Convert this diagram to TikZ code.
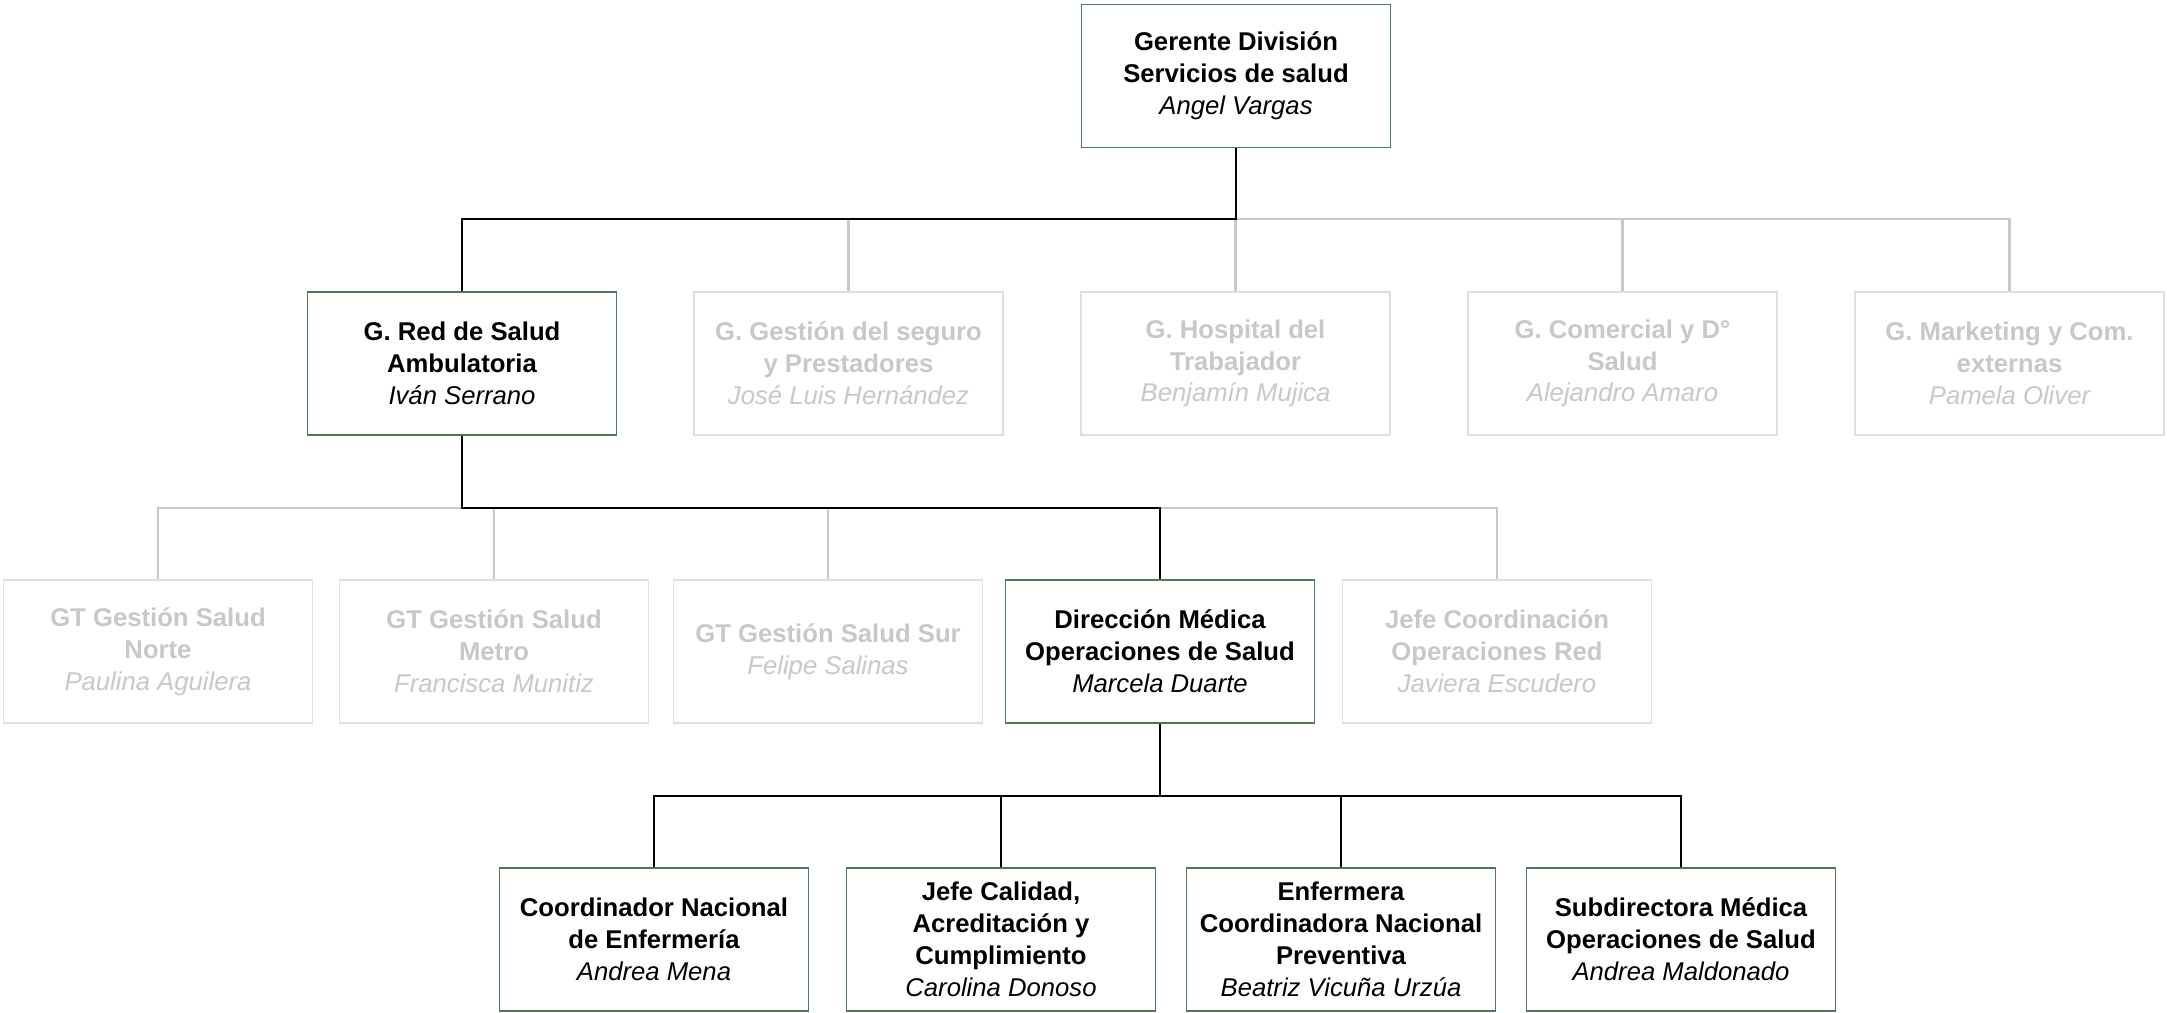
\documentclass[tikz,border=0pt]{standalone}
\usepackage{fontspec}
\setmainfont{Liberation Sans}
\definecolor{boxgreen}{RGB}{74,122,84}
\definecolor{palegreen}{RGB}{216,228,219}
\definecolor{palegrey}{RGB}{200,200,200}
\newcommand{\persona}[1]{\\{\mdseries\itshape #1}}
\tikzset{
  activebox/.style={draw=boxgreen, line width=0.5pt, fill=white, rectangle,
    minimum width=3.09cm, minimum height=1.43cm, inner sep=0pt, align=center,
    font={\fontsize{7.3}{9.05}\selectfont\bfseries}, text=black},
  faintbox/.style={activebox, draw=palegreen, text=palegrey},
  tieline/.style={draw=black, line width=0.6pt},
  faintline/.style={draw=palegrey, line width=0.6pt}
}
\begin{document}
\begin{tikzpicture}[x=0.01cm, y=-0.01cm]
        \useasboundingbox (0,0) rectangle (2167,1012);
        % top
        \node[activebox] (gerente) at (1236,76) {Gerente División\\Servicios de salud\persona{Angel Vargas}};
        % gerencias
        \node[activebox] (red) at (462,363.5) {G. Red de Salud\\Ambulatoria\persona{Iván Serrano}};
        \node[faintbox] (seguro) at (848.5,363.5) {G. Gestión del seguro\\y Prestadores\persona{José Luis Hernández}};
        \node[faintbox] (hospital) at (1235.5,363.5) {G. Hospital del\\Trabajador\persona{Benjamín Mujica}};
        \node[faintbox] (comercial) at (1622.5,363.5) {G. Comercial y D°\\Salud\persona{Alejandro Amaro}};
        \node[faintbox] (marketing) at (2009.5,363.5) {G. Marketing y Com.\\externas\persona{Pamela Oliver}};
        % red ambulatoria
        \node[faintbox] (norte) at (158,651.5) {GT Gestión Salud\\Norte\persona{Paulina Aguilera}};
        \node[faintbox] (metro) at (494,651.5) {GT Gestión Salud\\Metro\persona{Francisca Munitiz}};
        \node[faintbox] (sur) at (828,651.5) {GT Gestión Salud Sur\persona{Felipe Salinas}};
        \node[activebox] (direccion) at (1160,651.5) {Dirección Médica\\Operaciones de Salud\persona{Marcela Duarte}};
        \node[faintbox] (coordred) at (1497,651.5) {Jefe Coordinación\\Operaciones Red\persona{Javiera Escudero}};
        % direccion medica
        \node[activebox] (enfermeria) at (654,939.5) {Coordinador Nacional\\de Enfermería\persona{Andrea Mena}};
        \node[activebox] (calidad) at (1001,939.5) {Jefe Calidad,\\Acreditación y\\Cumplimiento\persona{Carolina Donoso}};
        \node[activebox] (preventiva) at (1341,939.5) {Enfermera\\Coordinadora Nacional\\Preventiva\persona{Beatriz Vicuña Urzúa}};
        \node[activebox] (subdir) at (1681,939.5) {Subdirectora Médica\\Operaciones de Salud\persona{Andrea Maldonado}};
        % junctions
        \coordinate (bus1) at (1236,219);
        \coordinate (bus2) at (462,508);
        \coordinate (bus3) at (1160,796);
        % faint links first
        \draw[faintline] (bus1) -| (seguro.north);
        \draw[faintline] (bus1) -| (hospital.north);
        \draw[faintline] (bus1) -| (comercial.north);
        \draw[faintline] (bus1) -| (marketing.north);
        \draw[faintline] (bus2) -| (norte.north);
        \draw[faintline] (bus2) -| (metro.north);
        \draw[faintline] (bus2) -| (sur.north);
        \draw[faintline] (bus2) -| (coordred.north);
        % active links
        \draw[tieline] (gerente.south) -- (bus1) -| (red.north);
        \draw[tieline] (red.south) -- (bus2) -| (direccion.north);
        \draw[tieline] (direccion.south) -- (bus3);
        \draw[tieline] (bus3) -| (enfermeria.north);
        \draw[tieline] (bus3) -| (calidad.north);
        \draw[tieline] (bus3) -| (preventiva.north);
        \draw[tieline] (bus3) -| (subdir.north);
\end{tikzpicture}
\end{document}
